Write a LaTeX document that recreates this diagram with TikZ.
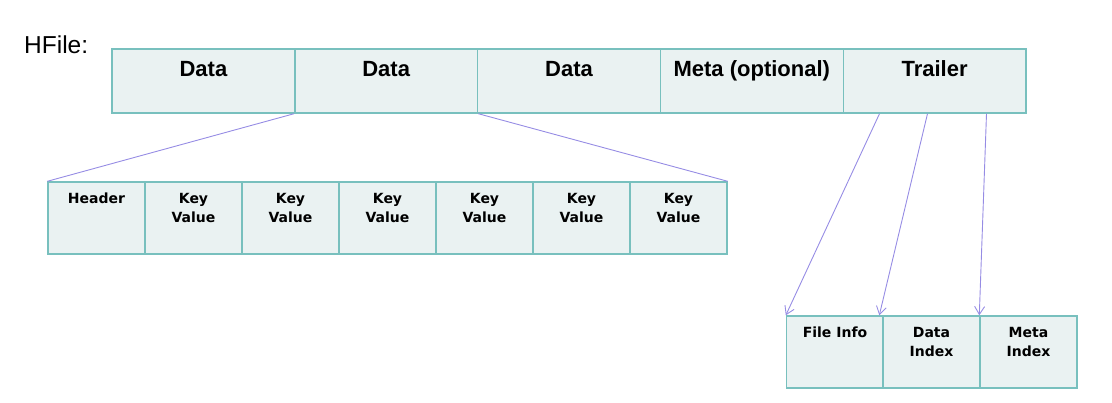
\documentclass[tikz,border=0pt]{standalone}
\usepackage{fontspec}
\setmainfont{Liberation Sans}
\newfontfamily\kvfont{DejaVu Sans}
\usetikzlibrary{arrows.meta}
\definecolor{cellfill}{RGB}{234,242,242}
\definecolor{cellline}{RGB}{120,192,190}
\definecolor{linkline}{RGB}{150,140,228}
\tikzset{
captext/.style={anchor=north,yshift=-11pt,inner sep=0pt,align=center},
bigcell/.style={draw=cellline,fill=cellfill,line width=1.4pt,inner sep=0pt,minimum width=182.8pt,minimum height=64pt,label={[captext,yshift=-1.5pt,font=\bfseries\fontsize{22}{26}\selectfont]north:#1}},
smallcell/.style={draw=cellline,fill=cellfill,line width=1.4pt,inner sep=0pt,minimum width=97pt,minimum height=72pt,label={[captext,yshift=-0.5pt,font=\kvfont\bfseries\fontsize{14}{19}\selectfont]north:#1}},
link/.style={draw=linkline,line width=0.9pt},
}
\begin{document}
\begin{tikzpicture}[x=1pt,y=-1pt,>={Straight Barb[length=8pt,width=10pt]}]
\useasboundingbox (0,0) rectangle (1112,402);
\node[anchor=base west,inner sep=0pt,font=\fontsize{24.5}{28}\selectfont] (hf) at (24,53) {HFile:};
\node[bigcell=Data] (d1) at (203.4,81) {};
\node[bigcell=Data] (d2) at (386.2,81) {};
\node[bigcell=Data] (d3) at (569,81) {};
\node[bigcell={Meta (optional)}] (mo) at (751.8,81) {};
\node[bigcell=Trailer] (tr) at (934.6,81) {};
\node[smallcell=Header] (hd) at (96.5,218) {};
\node[smallcell={Key\\Value}] (kv1) at (193.5,218) {};
\node[smallcell={Key\\Value}] (kv2) at (290.5,218) {};
\node[smallcell={Key\\Value}] (kv3) at (387.5,218) {};
\node[smallcell={Key\\Value}] (kv4) at (484.5,218) {};
\node[smallcell={Key\\Value}] (kv5) at (581.5,218) {};
\node[smallcell={Key\\Value}] (kv6) at (678.5,218) {};
\node[smallcell={File Info}] (fi) at (835,352) {};
\node[smallcell={Data\\Index}] (di) at (931.5,352) {};
\node[smallcell={Meta\\Index}] (mi) at (1028.5,352) {};
\draw[link] (d2.south west) -- (hd.north west);
\draw[link] (d2.south east) -- (kv6.north east);
\draw[link,->] ([xshift=37pt]tr.south west) -- (fi.north west);
\draw[link,->] ([xshift=85pt]tr.south west) -- ([xshift=-3pt]di.north west);
\draw[link,->] ([xshift=144pt]tr.south west) -- (mi.north west);
\end{tikzpicture}
\end{document}
